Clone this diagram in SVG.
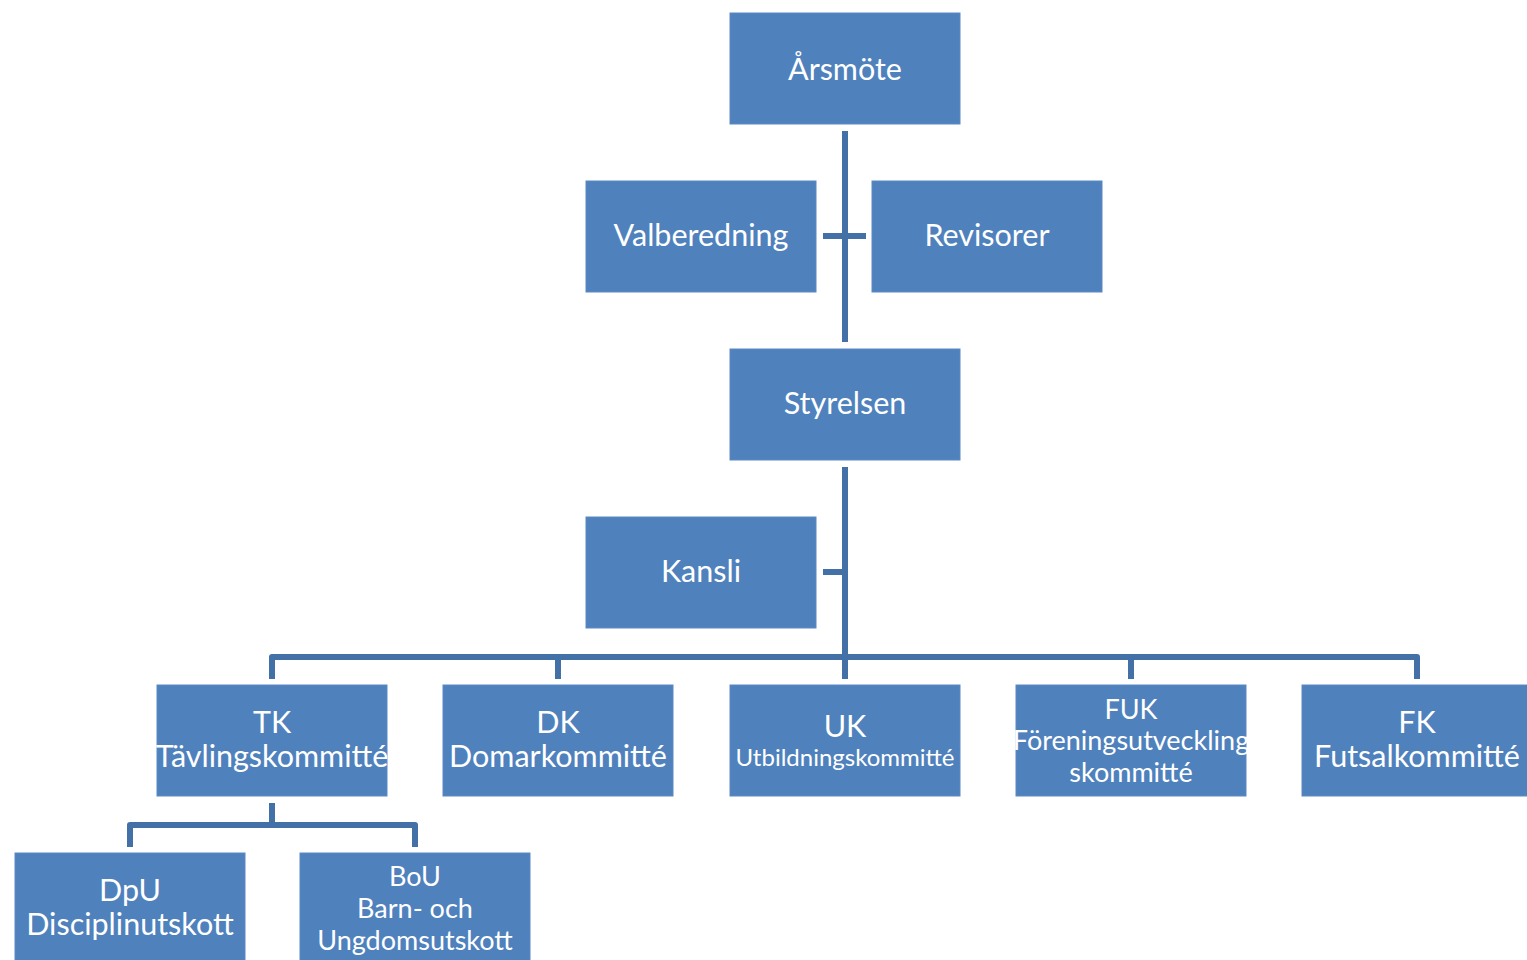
<svg xmlns="http://www.w3.org/2000/svg" width="1527" height="960" viewBox="0 0 1527 960">
<style>
.box{fill:#4F81BD;stroke:#5A8AC6;stroke-width:1}
.t{font-family:Lato,"Liberation Sans",sans-serif;fill:#FFFFFF;text-anchor:middle;font-size:30.5px}
.s{font-size:24px}
.m{font-size:27px}
.c{fill:none;stroke:#4470A8;stroke-width:6;stroke-linejoin:round}
</style>
<rect width="1527" height="960" fill="#FFFFFF"/>
<g id="connectors">
<path class="c" d="M845 131 V342"/>
<path class="c" d="M823 236 H866"/>
<path class="c" d="M845 467 V679"/>
<path class="c" d="M823 572 H845"/>
<path class="c" d="M272 679 V657 H1417 V679"/>
<path class="c" d="M558 657 V679"/>
<path class="c" d="M1131 657 V679"/>
<path class="c" d="M272 803 V825"/>
<path class="c" d="M130 847 V825 H415 V847"/>
</g>
<g id="arsmote"><rect class="box" x="730" y="13" width="230" height="111"/><text class="t" x="845" y="80">Årsmöte</text></g>
<g id="valberedning"><rect class="box" x="586" y="181" width="230" height="111"/><text class="t" x="701" y="246">Valberedning</text></g>
<g id="revisorer"><rect class="box" x="872" y="181" width="230" height="111"/><text class="t" x="987" y="246">Revisorer</text></g>
<g id="styrelsen"><rect class="box" x="730" y="349" width="230" height="111"/><text class="t" x="845" y="414">Styrelsen</text></g>
<g id="kansli"><rect class="box" x="586" y="517" width="230" height="111"/><text class="t" x="701" y="582">Kansli</text></g>
<g id="tk"><rect class="box" x="157" y="685" width="230" height="111"/><text class="t" x="272" y="733">TK</text><text class="t" x="272" y="767">Tävlingskommitté</text></g>
<g id="dk"><rect class="box" x="443" y="685" width="230" height="111"/><text class="t" x="558" y="733">DK</text><text class="t" x="558" y="767">Domarkommitté</text></g>
<g id="uk"><rect class="box" x="730" y="685" width="230" height="111"/><text class="t" x="845" y="737">UK</text><text class="t s" x="845" y="766">Utbildningskommitté</text></g>
<g id="fuk"><rect class="box" x="1016" y="685" width="230" height="111"/><text class="t m" x="1131" y="719">FUK</text><text class="t m" x="1131" y="750">Föreningsutveckling</text><text class="t m" x="1131" y="782">skommitté</text></g>
<g id="fk"><rect class="box" x="1302" y="685" width="230" height="111"/><text class="t" x="1417" y="733">FK</text><text class="t" x="1417" y="767">Futsalkommitté</text></g>
<g id="dpu"><rect class="box" x="15" y="853" width="230" height="111"/><text class="t" x="130" y="901">DpU</text><text class="t" x="130" y="935">Disciplinutskott</text></g>
<g id="bou"><rect class="box" x="300" y="853" width="230" height="111"/><text class="t m" x="415" y="886">BoU</text><text class="t m" x="415" y="918">Barn- och</text><text class="t m" x="415" y="950">Ungdomsutskott</text></g>
</svg>
